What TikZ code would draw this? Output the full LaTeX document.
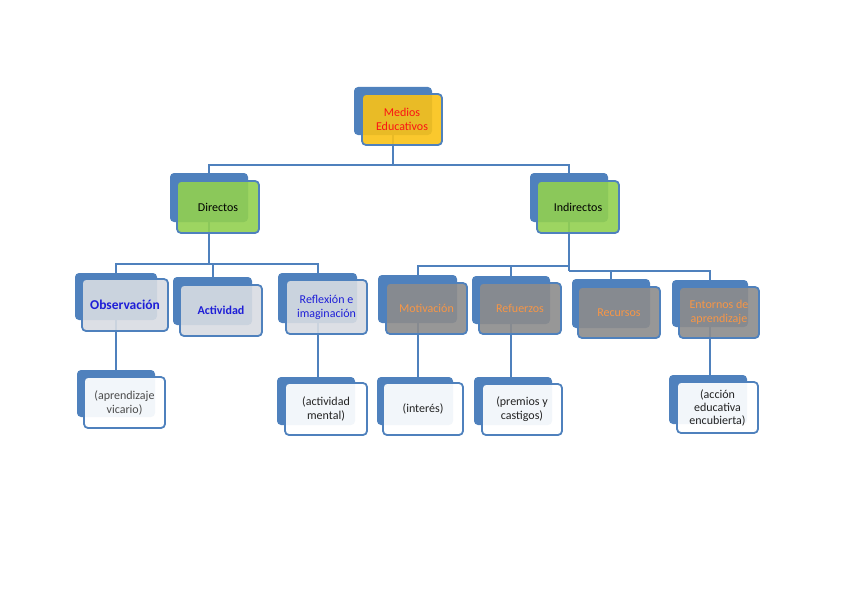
\documentclass[tikz,border=0pt]{standalone}
\usepackage{fontspec}
\setmainfont{Carlito}
\usetikzlibrary{fit,backgrounds}
\definecolor{bboxblue}{RGB}{79,129,189}
\definecolor{goldf}{RGB}{250,194,22}
\definecolor{greenf}{RGB}{146,208,80}
\definecolor{lgrayf}{RGB}{216,220,226}
\definecolor{grayf}{RGB}{140,140,140}
\definecolor{txtred}{RGB}{250,20,20}
\definecolor{txtblue}{RGB}{30,30,215}
\definecolor{txtorange}{RGB}{247,150,70}
\definecolor{txtdark}{RGB}{35,35,35}
\definecolor{txtgray}{RGB}{75,75,75}
\tikzset{
  backbox/.style={inner sep=0pt, fill=bboxblue, rounded corners=4pt},
  frontbox/.style={inner sep=0pt, draw=bboxblue, line width=1.8pt, rounded corners=4pt,
     fill opacity=0.9},
  label/.style={inner sep=0pt, align=center, font=\fontsize{12}{14}\selectfont},
  goldbox/.style={fill=goldf},
  greenbox/.style={fill=greenf},
  lgbox/.style={fill=lgrayf},
  graybox/.style={fill=grayf},
  whitebox/.style={fill=white, fill opacity=0.93},
  redtxt/.style={text=txtred},
  blacktxt/.style={text=black},
  bluetxt/.style={text=txtblue},
  orangetxt/.style={text=txtorange},
  darktxt/.style={text=txtdark},
  conn/.style={draw=bboxblue, line width=2pt},
}
\newcommand\twobox[6]{%
  \node[backbox, fit={#2}] (#1b) {};
  \node[frontbox, #4, fit={#3}] (#1) {};
  \node[label, #5] (#1t) at (#1.center) {#6};
}
\begin{document}
\begin{tikzpicture}[x=1pt,y=-1pt]
\useasboundingbox (0,0) rectangle (848,599);
% level 1
\twobox{med}{(354,87)(432,135)}{(362,94)(442,145)}{goldbox}{redtxt}{Medios\\Educativos}
% level 2
\twobox{dir}{(170,173)(248,222)}{(177,181)(259,233)}{greenbox}{blacktxt}{Directos}
\twobox{ind}{(530,173)(608,222)}{(537,181)(619,233)}{greenbox}{blacktxt}{Indirectos}
% level 3 left
\twobox{obs}{(75,273)(157,320)}{(82,279)(168,331)}{lgbox}{bluetxt,font=\fontsize{13.5}{15}\selectfont\bfseries}{Observación}
\twobox{act}{(173,277)(252,325)}{(180,285)(262,336)}{lgbox}{bluetxt,font=\fontsize{12}{14}\selectfont\bfseries}{Actividad}
\twobox{ref}{(278,273)(357,323)}{(286,280)(367,334)}{lgbox}{bluetxt}{Reflexión e\\imaginación}
% level 3 right
\twobox{mot}{(378,275)(457,323)}{(386,283)(467,334)}{graybox}{orangetxt}{Motivación}
\twobox{rfz}{(472,276)(550,324)}{(479,283)(561,334)}{graybox}{orangetxt}{Refuerzos}
\twobox{rec}{(572,279)(650,328)}{(578,287)(660,338)}{graybox}{orangetxt}{Recursos}
\twobox{ent}{(672,280)(748,327)}{(679,287)(759,338)}{graybox}{orangetxt}{Entornos de\\aprendizaje}
% level 4
\twobox{apr}{(77,370)(155,417)}{(84,377)(165,428)}{whitebox}{text=txtgray}{(aprendizaje\\vicario)}
\twobox{men}{(277,377)(355,425)}{(285,383)(367,435)}{whitebox}{darktxt}{(actividad\\mental)}
\twobox{int}{(377,377)(453,425)}{(383,383)(463,435)}{whitebox}{darktxt}{(interés)}
\twobox{pre}{(474,377)(552,425)}{(482,384)(562,435)}{whitebox}{darktxt}{(premios y\\castigos)}
\twobox{acc}{(669,375)(747,424)}{(677,382)(758,433)}{whitebox}{darktxt,font=\fontsize{12}{13}\selectfont}{(acción\\educativa\\encubierta)}
% connectors
\begin{pgfonlayer}{background}
\coordinate (j1) at (393,165);
\coordinate (j2) at (209,264);
\coordinate (j3) at (569,266);
\coordinate (j4) at (569,271);
\draw[conn] (medb.center) -- (j1);
\draw[conn] (dirb.center) |- (j1) -| (indb.center);
\draw[conn] (dirb.center) -- (j2);
\draw[conn] (obsb.center) |- (j2) -| (refb.center);
\draw[conn] (actb.center) |- (j2);
\draw[conn] (indb.center) -- (j4);
\draw[conn] (motb.center) |- (j3);
\draw[conn] (rfzb.center) |- (j3);
\draw[conn] (recb.center) |- (j4) -| (entb.center);
\draw[conn] (obsb.center) -- (obsb.center |- aprb.center);
\draw[conn] (refb.center) -- (refb.center |- menb.center);
\draw[conn] (motb.center) -- (motb.center |- intb.center);
\draw[conn] (rfzb.center) -- (rfzb.center |- preb.center);
\draw[conn] (entb.center) -- (entb.center |- accb.center);
\end{pgfonlayer}
\end{tikzpicture}
\end{document}
